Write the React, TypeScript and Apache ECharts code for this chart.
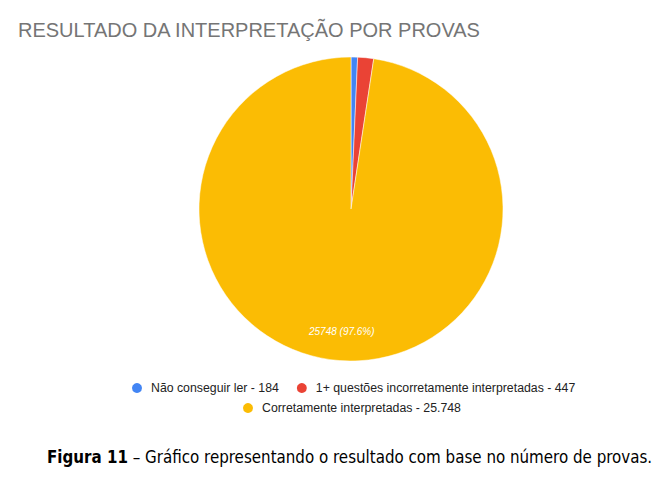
import React, { useEffect, useRef } from "react";
import * as echarts from "echarts";

const titleText = "RESULTADO DA INTERPRETAÇÃO POR PROVAS";
const categories = [
  "Não conseguir ler - 184",
  "1+ questões incorretamente interpretadas - 447",
  "Corretamente interpretadas - 25.748",
];
const values = [184, 447, 25748];
const colors = ["#4285F4", "#EA4335", "#FBBC04"];
const captionBold = "Figura 11";
const captionRest = " – Gráfico representando o resultado com base no número de provas.";

export default function App() {
  const ref = useRef<HTMLDivElement>(null);
  useEffect(() => {
    document.body.style.margin = "0";
    const chart = echarts.init(ref.current!, null, { renderer: "svg" });
    const data = categories.map((name, i) => ({
      name,
      value: values[i],
      itemStyle: { color: colors[i] },
    }));
    const legendText = {
      fontFamily: "Liberation Sans, Arial, sans-serif",
      fontSize: 12.3,
      color: "#222222",
      padding: [0, 0, 0, 3],
    };
    chart.setOption({
      animation: false,
      backgroundColor: "#ffffff",
      title: {
        text: titleText,
        left: 13,
        top: 15,
        textStyle: {
          fontFamily: "Liberation Sans, Arial, sans-serif",
          fontSize: 20,
          fontWeight: "normal",
          color: "#757575",
        },
      },
      legend: [
        {
          data: categories.slice(0, 2),
          left: 125,
          top: 376,
          icon: "circle",
          itemWidth: 12,
          itemHeight: 12,
          itemGap: 16,
          textStyle: legendText,
        },
        {
          data: categories.slice(2),
          left: 236,
          top: 396,
          icon: "circle",
          itemWidth: 12,
          itemHeight: 12,
          itemGap: 16,
          textStyle: legendText,
        },
      ],
      series: [
        {
          type: "pie",
          center: [351, 209],
          radius: 152,
          startAngle: 90,
          clockwise: true,
          percentPrecision: 1,
          label: { show: false },
          labelLine: { show: false },
          itemStyle: { borderColor: "#ffffff", borderWidth: 0.5 },
          emphasis: { disabled: true },
          data,
        },
        {
          type: "pie",
          center: [351, 209],
          radius: [88, 152],
          startAngle: 90,
          clockwise: true,
          percentPrecision: 1,
          silent: true,
          legendHoverLink: false,
          itemStyle: { color: "rgba(0,0,0,0)" },
          emphasis: { disabled: true },
          labelLine: { show: false },
          label: {
            show: true,
            position: "inside",
            formatter: (p: any) => (p.dataIndex === 2 ? `${p.value} (${p.percent}%)` : ""),
            color: "#ffffff",
            fontStyle: "italic",
            fontSize: 10,
            fontFamily: "Liberation Sans, Arial, sans-serif",
          },
          data: categories.map((name, i) => ({ name, value: values[i] })),
        },
      ],
      graphic: [
        {
          type: "text",
          left: 47,
          top: 448,
          style: {
            text: `{b|${captionBold}}{r|${captionRest}}`,
            rich: {
              b: {
                fontFamily: "DejaVu Sans Condensed, DejaVu Sans, sans-serif",
                fontWeight: "bold",
                fontSize: 16.8,
                fill: "#000",
              },
              r: {
                fontFamily: "DejaVu Sans Condensed, DejaVu Sans, sans-serif",
                fontSize: 16.8,
                fill: "#000",
              },
            },
          },
        },
      ],
    });
    return () => chart.dispose();
  }, []);
  return <div ref={ref} style={{ width: 670, height: 479 }} />;
}
